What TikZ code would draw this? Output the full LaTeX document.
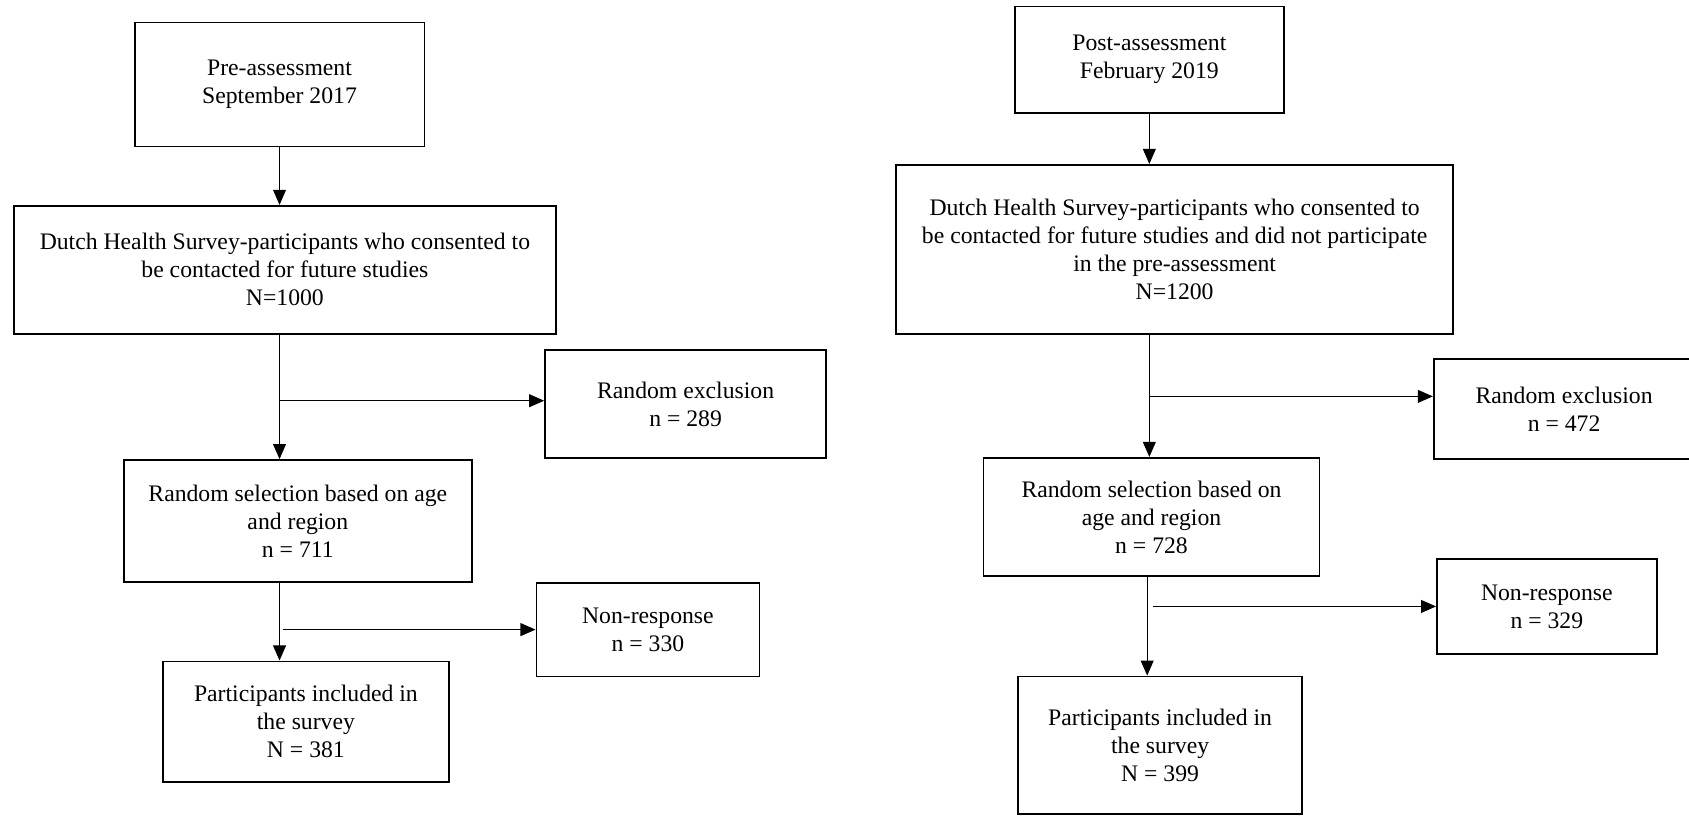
\documentclass[tikz,border=0pt]{standalone}
\usepackage{fontspec}
\setmainfont{Liberation Serif}
\usetikzlibrary{arrows.meta}

\begin{document}
\begin{tikzpicture}[
        x=0.5pt, y=-0.5pt,
        block/.style={
            rectangle,
            draw,
            line width=0.8pt,
            align=center,
            inner sep=0pt,
            font=\fontsize{11}{13}\selectfont
        },
        arrow/.style={-{Triangle[length=7pt,width=6pt]}, line width=0.5pt}
    ]

        \useasboundingbox (0,0) rectangle (1568,758);

        % pre-assessment (left)
        \node[block, minimum width=134.5pt, minimum height=57.5pt] (preA) at (259.5,78.5) {Pre-assessment\\September 2017};
        \node[block, minimum width=251.5pt, minimum height=59.5pt] (sampleA) at (264.5,250.5) {Dutch Health Survey-participants who consented to\\be contacted for future studies\\N=1000};
        \node[block, minimum width=130.5pt, minimum height=50pt] (exclA) at (636.5,375) {Random exclusion\\n = 289};
        \node[block, minimum width=161.5pt, minimum height=56.5pt] (selA) at (276.5,483.5) {Random selection based on age\\and region\\n = 711};
        \node[block, minimum width=103.5pt, minimum height=43.5pt] (nonA) at (601.5,584.5) {Non-response\\n = 330};
        \node[block, minimum width=133pt, minimum height=56pt] (inclA) at (284,670) {Participants included in\\the survey\\N = 381};
        \coordinate (exclAin) at ([yshift=1.5pt]exclA.west);

        % post-assessment (right)
        \node[block, minimum width=125pt, minimum height=49.5pt] (preB) at (1067,55.5) {Post-assessment\\February 2019};
        \node[block, minimum width=258.5pt, minimum height=78.5pt] (sampleB) at (1090.5,231.5) {Dutch Health Survey-participants who consented to\\be contacted for future studies and did not participate\\in the pre-assessment\\N=1200};
        \node[block, minimum width=121pt, minimum height=46.5pt] (exclB) at (1452,379.5) {Random exclusion\\n = 472};
        \node[block, minimum width=156pt, minimum height=55pt] (selB) at (1069,480) {Random selection based on\\age and region\\n = 728};
        \node[block, minimum width=102pt, minimum height=44pt] (nonB) at (1436,563) {Non-response\\n = 329};
        \node[block, minimum width=132pt, minimum height=64pt] (inclB) at (1077,692) {Participants included in\\the survey\\N = 399};
        \coordinate (exclBin) at ([yshift=5.75pt]exclB.west);

        \draw[arrow] (preA.south) -- (preA.south |- sampleA.north);
        \draw[arrow] (preA.south |- sampleA.south) -- (preA.south |- selA.north);
        \draw[arrow] (preA.south |- exclAin) -- (exclAin);
        \draw[arrow] (preA.south |- selA.south) -- (preA.south |- inclA.north);
        \draw[arrow] ([xshift=1.5pt]preA.south |- nonA.west) -- (nonA.west);

        \draw[arrow] (preB.south) -- (preB.south |- sampleB.north);
        \draw[arrow] (preB.south |- sampleB.south) -- (preB.south |- selB.north);
        \draw[arrow] (preB.south |- exclBin) -- (exclBin);
        \draw[arrow] ([xshift=-1pt]preB.south |- selB.south) -- ([xshift=-1pt]preB.south |- inclB.north);
        \draw[arrow] ([xshift=1.5pt]preB.south |- nonB.west) -- (nonB.west);

    \end{tikzpicture}
\end{document}
